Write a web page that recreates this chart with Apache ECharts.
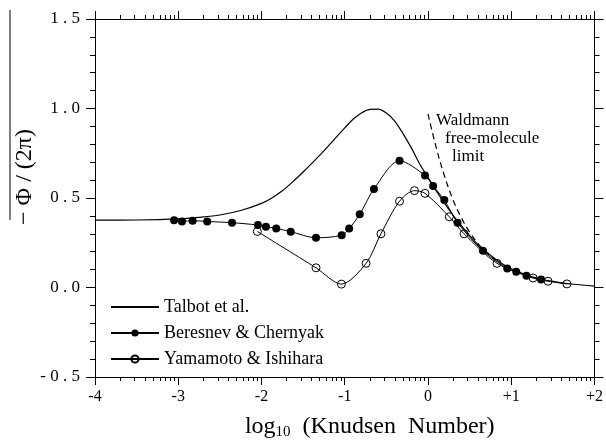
<!DOCTYPE html>
<html>
<head>
<meta charset="utf-8">
<script src="https://cdn.jsdelivr.net/npm/echarts@6/dist/echarts.min.js"></script>
<style>html,body{margin:0;padding:0;background:#fff;}#c{width:606px;height:445px;}</style>
</head>
<body>
<div id="c"></div>
<script>
// ---- data (x = log10 Knudsen number, y = -Phi/(2 pi)) ----
const talbotX = [-4, -3.5, -3, -2.75, -2.5, -2.25, -2, -1.875, -1.75, -1.625, -1.5, -1.375, -1.25, -1.125, -1.0, -0.9, -0.8, -0.7, -0.6, -0.5, -0.4, -0.3, -0.2, -0.1, 0, 0.1, 0.2, 0.3, 0.4, 0.5, 0.6, 0.75, 0.9, 1.0, 1.25, 1.5, 1.75, 2.0];
const talbotY = [0.376, 0.377, 0.383, 0.392, 0.405, 0.43, 0.47, 0.5, 0.54, 0.59, 0.645, 0.703, 0.763, 0.828, 0.892, 0.94, 0.975, 0.995, 0.997, 0.975, 0.93, 0.86, 0.78, 0.69, 0.615, 0.54, 0.47, 0.405, 0.345, 0.29, 0.24, 0.18, 0.13, 0.105, 0.06, 0.034, 0.018, 0.008];

const beresnevX = [-3.05, -2.955, -2.827, -2.652, -2.354, -2.043, -1.947, -1.823, -1.649, -1.345, -1.037, -0.947, -0.82, -0.649, -0.342, -0.036, 0.062, 0.196, 0.355, 0.66, 0.952, 1.06, 1.183, 1.358];
const beresnevY = [0.376, 0.369, 0.373, 0.369, 0.362, 0.349, 0.34, 0.33, 0.312, 0.278, 0.292, 0.329, 0.409, 0.55, 0.708, 0.626, 0.567, 0.489, 0.362, 0.205, 0.106, 0.088, 0.066, 0.044];

const yamamotoX = [-2.05, -1.345, -1.04, -0.744, -0.565, -0.342, -0.163, -0.036, 0.256, 0.433, 0.829, 1.263, 1.442, 1.669];
const yamamotoY = [0.313, 0.11, 0.019, 0.135, 0.3, 0.482, 0.541, 0.526, 0.395, 0.3, 0.135, 0.053, 0.035, 0.02];

const waldmannX = [0.0, 0.1, 0.2, 0.3, 0.4, 0.5, 0.6, 0.7, 0.8];
const waldmannY = [0.97, 0.78, 0.62, 0.49, 0.39, 0.31, 0.245, 0.195, 0.155];

const xTickLabels = ['-4', '-3', '-2', '-1', '0', '+1', '+2'];
const yTickLabels = ['-0.5', '0.0', '0.5', '1.0', '1.5'];

const seriesNames = ['Talbot et al.', 'Beresnev & Chernyak', 'Yamamoto & Ishihara'];
const annotation = ['Waldmann', 'free-molecule', 'limit'];

// ---- helpers ----
const zip = (xs, ys) => xs.map((x, i) => [x, ys[i]]);
const FONT = 'Liberation Serif';
const xMin = -4, xMax = 2;
const minorX = [];
for (let d = xMin; d < xMax; d++) {
  for (let k = 2; k <= 9; k++) minorX.push(d + Math.log10(k));
}
const spaced = s => s.split('').join(' ');

const chart = echarts.init(document.getElementById('c'), null, {renderer: 'canvas'});
const black = '#000';

const baseX = {
  type: 'value', min: xMin, max: xMax, interval: 1,
  splitLine: {show: false}
};
const lineOn = {show: true, onZero: false, lineStyle: {color: black, width: 1}};
const lineOff = {show: false, onZero: false};

chart.setOption({
  animation: false,
  backgroundColor: '#fff',
  grid: {left: 95, right: 8, top: 19, bottom: 60},
  xAxis: [
    Object.assign({}, baseX, {
      position: 'bottom',
      axisLine: lineOn,
      axisTick: {length: 8, lineStyle: {color: black}},
      axisLabel: {
        color: black, fontFamily: FONT, fontSize: 16, margin: 12,
        formatter: v => xTickLabels[Math.round(v - xMin)]
      },
      name: 'log{sub|10}  (Knudsen  Number)',
      nameLocation: 'middle', nameGap: 36,
      nameTextStyle: {
        color: black, fontFamily: FONT, fontSize: 24, padding: [0, 0, 0, 50],
        rich: {sub: {fontFamily: FONT, fontSize: 15, color: black, padding: [12, 0, 0, 0]}}
      }
    }),
    Object.assign({}, baseX, {
      position: 'bottom',
      axisLine: lineOff,
      axisTick: {show: true, length: 4, customValues: minorX, lineStyle: {color: black}},
      axisLabel: {show: false}
    }),
    Object.assign({}, baseX, {
      position: 'top',
      axisLine: lineOn,
      axisTick: {length: 8, lineStyle: {color: black}},
      axisLabel: {show: false}
    }),
    Object.assign({}, baseX, {
      position: 'top',
      axisLine: lineOff,
      axisTick: {show: true, length: 4, customValues: minorX, lineStyle: {color: black}},
      axisLabel: {show: false}
    })
  ],
  yAxis: [
    {
      type: 'value', position: 'left', min: -0.5, max: 1.5, interval: 0.5,
      splitLine: {show: false},
      axisLine: lineOn,
      axisTick: {show: true, length: 9, lineStyle: {color: black}},
      minorTick: {show: true, splitNumber: 5, length: 5, lineStyle: {color: black}},
      axisLabel: {
        color: black, fontFamily: FONT, fontSize: 17, margin: 15,
        formatter: v => spaced(yTickLabels[Math.round((v + 0.5) / 0.5)])
      }
    },
    {
      type: 'value', position: 'right', min: -0.5, max: 1.5, interval: 0.5,
      splitLine: {show: false},
      axisLine: lineOn,
      axisTick: {show: true, length: 9, lineStyle: {color: black}},
      minorTick: {show: true, splitNumber: 5, length: 5, lineStyle: {color: black}},
      axisLabel: {show: false}
    }
  ],
  legend: {
    data: [
      {name: seriesNames[0], itemStyle: {opacity: 0}},
      {name: seriesNames[1]},
      {name: seriesNames[2]}
    ],
    orient: 'vertical', left: 105, top: 293,
    itemWidth: 48, itemHeight: 9, itemGap: 8,
    textStyle: {color: black, fontFamily: FONT, fontSize: 18},
    selectedMode: false
  },
  graphic: [
    {type: 'line', shape: {x1: 10, y1: 10, x2: 10, y2: 220}, style: {stroke: black, lineWidth: 1}},
    {type: 'text', x: 25, y: 177, rotation: Math.PI / 2,
     style: {text: '\u2212 \u03A6 / (2\u03C0)', font: '24px "Liberation Serif"', fill: black, textAlign: 'center', textVerticalAlign: 'middle'}},
    {type: 'text', x: 436, y: 121, style: {text: annotation[0], font: '17px "Liberation Serif"', fill: black, textVerticalAlign: 'middle'}},
    {type: 'text', x: 445, y: 139, style: {text: annotation[1], font: '17px "Liberation Serif"', fill: black, textVerticalAlign: 'middle'}},
    {type: 'text', x: 452, y: 157, style: {text: annotation[2], font: '17px "Liberation Serif"', fill: black, textVerticalAlign: 'middle'}}
  ],
  series: [
    {
      name: seriesNames[0], type: 'line', data: zip(talbotX, talbotY),
      smooth: 0.3, symbol: 'none', lineStyle: {color: black, width: 1.2}, itemStyle: {color: black}, z: 2
    },
    {
      name: seriesNames[1], type: 'line', data: zip(beresnevX, beresnevY),
      smooth: 0.3, symbol: 'circle', symbolSize: 8,
      lineStyle: {color: black, width: 1}, itemStyle: {color: black}, z: 3
    },
    {
      name: seriesNames[2], type: 'line', data: zip(yamamotoX, yamamotoY),
      smooth: 0.3, symbol: 'circle', symbolSize: 8,
      lineStyle: {color: black, width: 1},
      itemStyle: {color: 'rgba(0,0,0,0)', borderColor: black, borderWidth: 1}, z: 3
    },
    {
      name: 'Waldmann', type: 'line', data: zip(waldmannX, waldmannY),
      smooth: 0.4, symbol: 'none',
      lineStyle: {color: black, width: 1.2, type: [6, 4]}, z: 1
    }
  ]
});
</script>
</body>
</html>
